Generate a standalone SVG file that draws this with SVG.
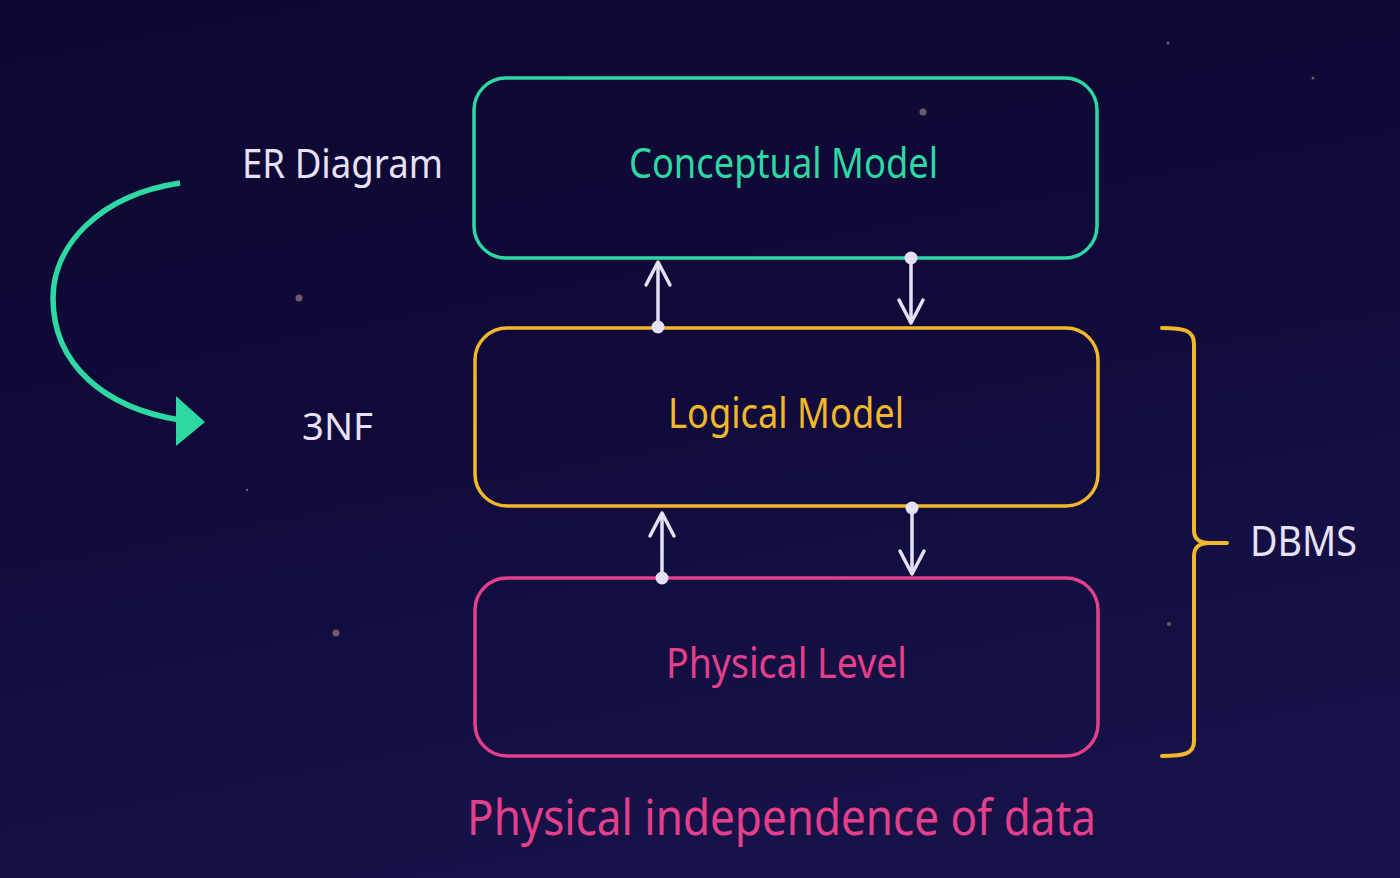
<svg xmlns="http://www.w3.org/2000/svg" width="1400" height="878" viewBox="0 0 1400 878">
  <defs>
    <linearGradient id="bg" x1="0" y1="0" x2="0.3" y2="1">
      <stop offset="0" stop-color="#0d0730"/>
      <stop offset="0.5" stop-color="#100a3a"/>
      <stop offset="1" stop-color="#161247"/>
    </linearGradient>
    <marker id="chev" markerUnits="userSpaceOnUse" viewBox="-26 -15 29 30" refX="0" refY="0" markerWidth="29" markerHeight="30" orient="auto">
      <path d="M-23,-12 L0,0 L-23,12" fill="none" stroke="#e6e0f6" stroke-width="3.5" stroke-linecap="round" stroke-linejoin="round"/>
    </marker>
    <marker id="dot" markerUnits="userSpaceOnUse" viewBox="-8 -8 16 16" refX="0" refY="0" markerWidth="16" markerHeight="16" orient="auto">
      <circle cx="0" cy="0" r="6.5" fill="#e6e0f6"/>
    </marker>
  </defs>
  <style>
    .box { fill: none; stroke-width: 3.5; }
    .lbl { font-family: "Noto Sans", "Open Sans", "DejaVu Sans", sans-serif; text-anchor: start; }
    .white { fill: #e8e1f8; }
    .conn { stroke: #e6e0f6; stroke-width: 3.5; fill: none; marker-start: url(#dot); marker-end: url(#chev); }
  </style>
  <rect x="0" y="0" width="1400" height="878" fill="url(#bg)"/>
  <g id="background-stars" fill="#6e5a6a">
    <circle cx="923" cy="112" r="3.5"/>
    <circle cx="299" cy="298" r="3.5"/>
    <circle cx="336" cy="633" r="3.5"/>
    <circle cx="1168" cy="43" r="1.5"/>
    <circle cx="1313" cy="78" r="1.5"/>
    <circle cx="1169" cy="624" r="2"/>
    <circle cx="247" cy="490" r="1.2"/>
  </g>
  <g id="node-conceptual">
    <rect class="box" x="474" y="78" width="623" height="180" rx="32" stroke="#2ed8a3"/>
    <text class="lbl" x="629" y="178" font-size="42" fill="#2ed8a3" textLength="309" lengthAdjust="spacingAndGlyphs">Conceptual Model</text>
  </g>
  <g id="node-logical">
    <rect class="box" x="475" y="328" width="623" height="178" rx="32" stroke="#f2b82a"/>
    <text class="lbl" x="668" y="428" font-size="42" fill="#f2b82a" textLength="236" lengthAdjust="spacingAndGlyphs">Logical Model</text>
  </g>
  <g id="node-physical">
    <rect class="box" x="475" y="578" width="623" height="178" rx="32" stroke="#e33f8a"/>
    <text class="lbl" x="666" y="678" font-size="42" fill="#e33f8a" textLength="241" lengthAdjust="spacingAndGlyphs">Physical Level</text>
  </g>
  <g id="label-er">
    <text class="lbl white" x="242" y="178" font-size="40" textLength="201" lengthAdjust="spacingAndGlyphs">ER Diagram</text>
  </g>
  <g id="label-3nf">
    <text class="lbl white" x="302" y="440" font-size="39" textLength="71" lengthAdjust="spacingAndGlyphs">3NF</text>
  </g>
  <g id="label-dbms">
    <text class="lbl white" x="1250" y="556" font-size="42" textLength="107" lengthAdjust="spacingAndGlyphs">DBMS</text>
  </g>
  <g id="title">
    <text class="lbl" x="467" y="835" font-size="49" fill="#e33f8a" textLength="629" lengthAdjust="spacingAndGlyphs">Physical independence of data</text>
  </g>
  <g id="connectors">
    <path class="conn" d="M658,327 L658,262"/>
    <path class="conn" d="M911,258 L911,323"/>
    <path class="conn" d="M662,578 L662,513"/>
    <path class="conn" d="M912,508 L912,574"/>
    <path d="M180,183 C100,195 53,245 53,298 C53,365 105,408 180,420" fill="none" stroke="#2ed8a3" stroke-width="5.5"/>
    <polygon points="176,396 205,422 176,446" fill="#2ed8a3"/>
    <path d="M1162,328 C1184,328 1194,330 1194,344 L1194,530 C1194,539 1199,543 1210,543 L1227,543 M1210,543 C1199,543 1194,547 1194,556 L1194,741 C1194,754 1184,756 1162,756" fill="none" stroke="#f2b82a" stroke-width="4" stroke-linecap="round" stroke-linejoin="round"/>
  </g>
</svg>
